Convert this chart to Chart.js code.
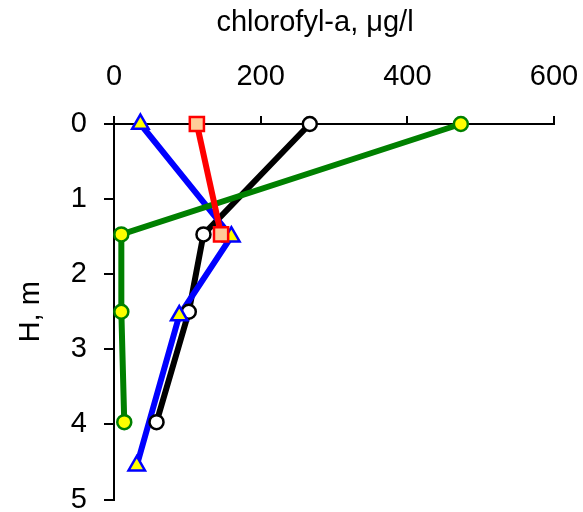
<!DOCTYPE html>
<html><head><meta charset="utf-8">
<script src="https://cdn.jsdelivr.net/npm/chart.js@4.4.0/dist/chart.umd.min.js"></script>
<style>html,body{margin:0;padding:0;background:#fff}#wrap{width:583px;height:512px}</style>
</head><body><div id="wrap"><canvas id="c" width="583" height="512"></canvas></div>
<script>
// Data
const depthBlack = [0, 1.47, 2.5, 3.97];
const chlBlack   = [267, 122, 102, 58];
const depthGreen = [0, 1.47, 2.5, 3.97];
const chlGreen   = [473, 10, 10, 14];
const depthBlue  = [0, 1.5, 2.55, 4.55];
const chlBlue    = [36, 160, 89, 31];
const depthRed   = [0, 1.47];
const chlRed     = [113, 146];
const xTickValues = [0, 200, 400, 600];
const yTickValues = [0, 1, 2, 3, 4, 5];
const xTitle = 'chlorofyl-a, \u03bcg/l';
const yTitle = 'H, m';

const FONT = 'Liberation Sans, Arial, sans-serif';
const toPts = (xs, ys) => xs.map((v, i) => ({x: v, y: ys[i]}));

const series = [
  {x: chlBlack, y: depthBlack, line: '#000000', fill: '#ffffff', edge: '#000000', style: 'circle', r: 7, lo: 10, mo: 4},
  {x: chlBlue,  y: depthBlue,  line: '#0000ff', fill: '#ffff00', edge: '#0000ff', style: 'triangle', r: 9.5, lo: 9, mo: 3},
  {x: chlGreen, y: depthGreen, line: '#008000', fill: '#ffff00', edge: '#008000', style: 'circle', r: 7, lo: 8, mo: 2},
  {x: chlRed,   y: depthRed,   line: '#ff0000', fill: '#ffcc99', edge: '#ff0000', style: 'rect', r: 10, lo: 7, mo: 1}
];

const datasets = [];
series.forEach(s => {
  datasets.push({
    data: toPts(s.x, s.y), borderColor: s.line, borderWidth: 6, pointRadius: 0,
    tension: 0, fill: false, clip: false, order: s.lo
  });
  datasets.push({
    data: toPts(s.x, s.y), showLine: false, pointStyle: s.style, pointRadius: s.r,
    pointBackgroundColor: s.fill, pointBorderColor: s.edge, pointBorderWidth: 2.5,
    clip: false, order: s.mo
  });
});

const titlePlugin = {
  id: 'xTitle',
  afterDraw(chart) {
    const ctx = chart.ctx;
    ctx.save();
    ctx.font = '29px ' + FONT;
    ctx.fillStyle = '#000';
    ctx.textAlign = 'center';
    ctx.textBaseline = 'middle';
    ctx.fillText(xTitle, 315, 23);
    ctx.restore();
  }
};

new Chart(document.getElementById('c'), {
  type: 'line',
  data: {datasets},
  plugins: [titlePlugin],
  options: {
    responsive: false, animation: false, devicePixelRatio: 1,
    layout: {padding: {left: 0, right: 29, top: 0, bottom: 11}},
    plugins: {legend: {display: false}, tooltip: {enabled: false}},
    scales: {
      x: {
        type: 'linear', position: 'top', min: 0, max: 600,
        afterFit(scale) { scale.height = 124; scale.paddingLeft = 0; scale.paddingRight = 0; },
        afterBuildTicks(scale) { scale.ticks = xTickValues.map(v => ({value: v})); },
        ticks: {color: '#000', font: {size: 29, family: FONT}, padding: 22, maxRotation: 0},
        grid: {drawOnChartArea: false, drawTicks: true, tickLength: 8, color: '#000', lineWidth: 2},
        border: {color: '#000', width: 2}
      },
      y: {
        type: 'linear', reverse: true, min: 0, max: 5,
        afterFit(scale) { scale.width = 114; scale.paddingTop = 0; scale.paddingBottom = 0; },
        afterBuildTicks(scale) { scale.ticks = yTickValues.map(v => ({value: v})); },
        ticks: {color: '#000', font: {size: 29, family: FONT}, padding: 17},
        grid: {drawOnChartArea: false, drawTicks: true, tickLength: 10, color: '#000', lineWidth: 2},
        border: {color: '#000', width: 2},
        title: {display: true, text: yTitle, color: '#000', font: {size: 29, family: FONT}, padding: {top: 13.6, bottom: 0}}
      }
    }
  }
});
</script></body></html>
